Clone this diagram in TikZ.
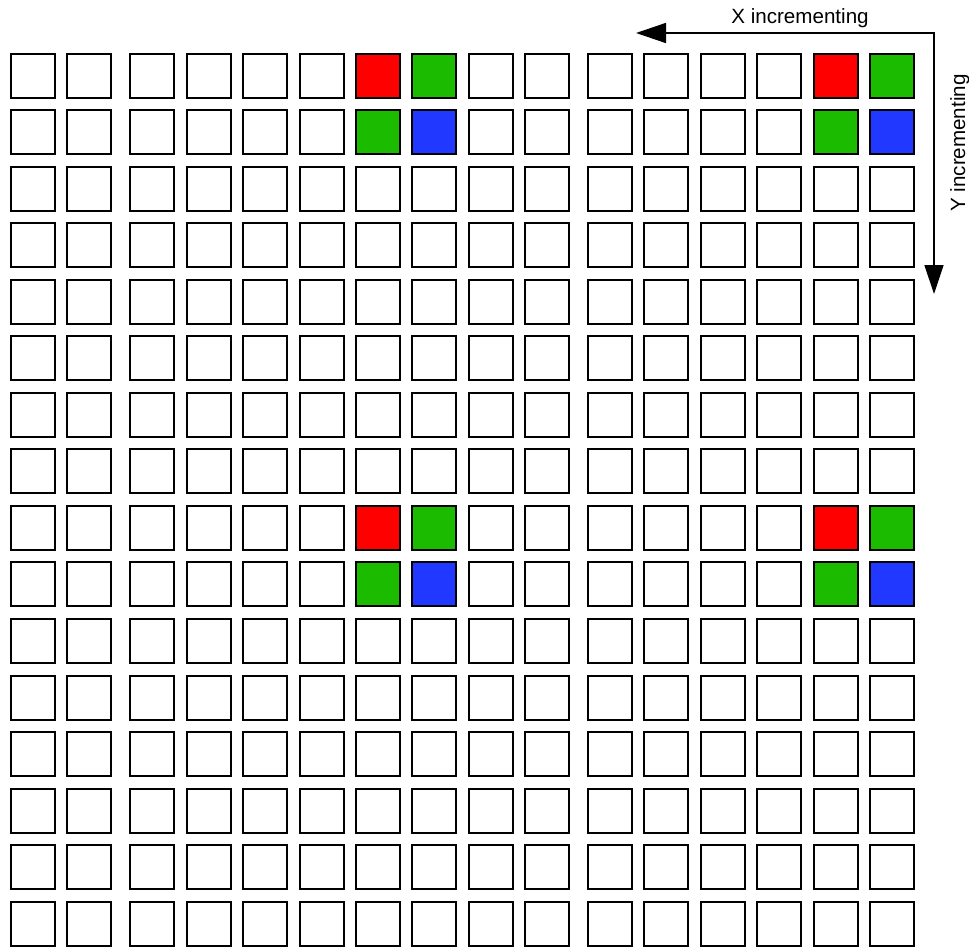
\documentclass[tikz,border=0pt]{standalone}
\usepackage{fontspec}
\setmainfont{Liberation Sans}
\usetikzlibrary{arrows.meta}
\definecolor{cellred}{RGB}{255,0,0}
\definecolor{cellgreen}{RGB}{27,187,0}
\definecolor{cellblue}{RGB}{32,56,255}
\begin{document}
\begin{tikzpicture}[x=1pt,y=1pt,
  cell/.style={draw=black, line width=2pt, minimum width=44pt, minimum height=44pt, inner sep=0pt, outer sep=0pt},
  axis/.style={line width=1.5pt},
  lbl/.style={font=\fontsize{20.6}{24}\selectfont, inner sep=0pt}]
\useasboundingbox (0,0) rectangle (969,-947);
\foreach \r in {0,...,15}{
  \foreach \c in {0,...,15}{
    \pgfmathtruncatemacro\colm{mod(\c,8)}
    \pgfmathtruncatemacro\rowm{mod(\r,8)}
    \def\cellfill{white}
    \ifnum\colm>5 \ifnum\rowm<2
      \pgfmathtruncatemacro\kk{\colm-6+2*\rowm}
      \ifcase\kk \def\cellfill{cellred}\or \def\cellfill{cellgreen}\or \def\cellfill{cellgreen}\or \def\cellfill{cellblue}\fi
    \fi\fi
    \pgfmathsetmacro\xx{10+56.4*\c+6.5*(\c>1)+6.5*(\c>9)+23}
    \pgfmathsetmacro\yy{52.7+56.53*\r+23}
    \node[cell, fill=\cellfill] (c-\r-\c) at (\xx,-\yy) {};
  }
}
\coordinate (corner) at (934,-33);
\coordinate (xtip) at (636,-33);
\coordinate (ytip) at (934,-294);
\draw[axis, {Triangle[length=30pt,width=20pt]}-{Triangle[length=29pt,width=19pt]}] (xtip) -- (corner) -- (ytip);
\node[lbl, anchor=base] (xlabel) at (800,-23.3) {X incrementing};
\node[lbl, anchor=base, rotate=90] (ylabel) at (965,-143) {Y incrementing};
\end{tikzpicture}
\end{document}
